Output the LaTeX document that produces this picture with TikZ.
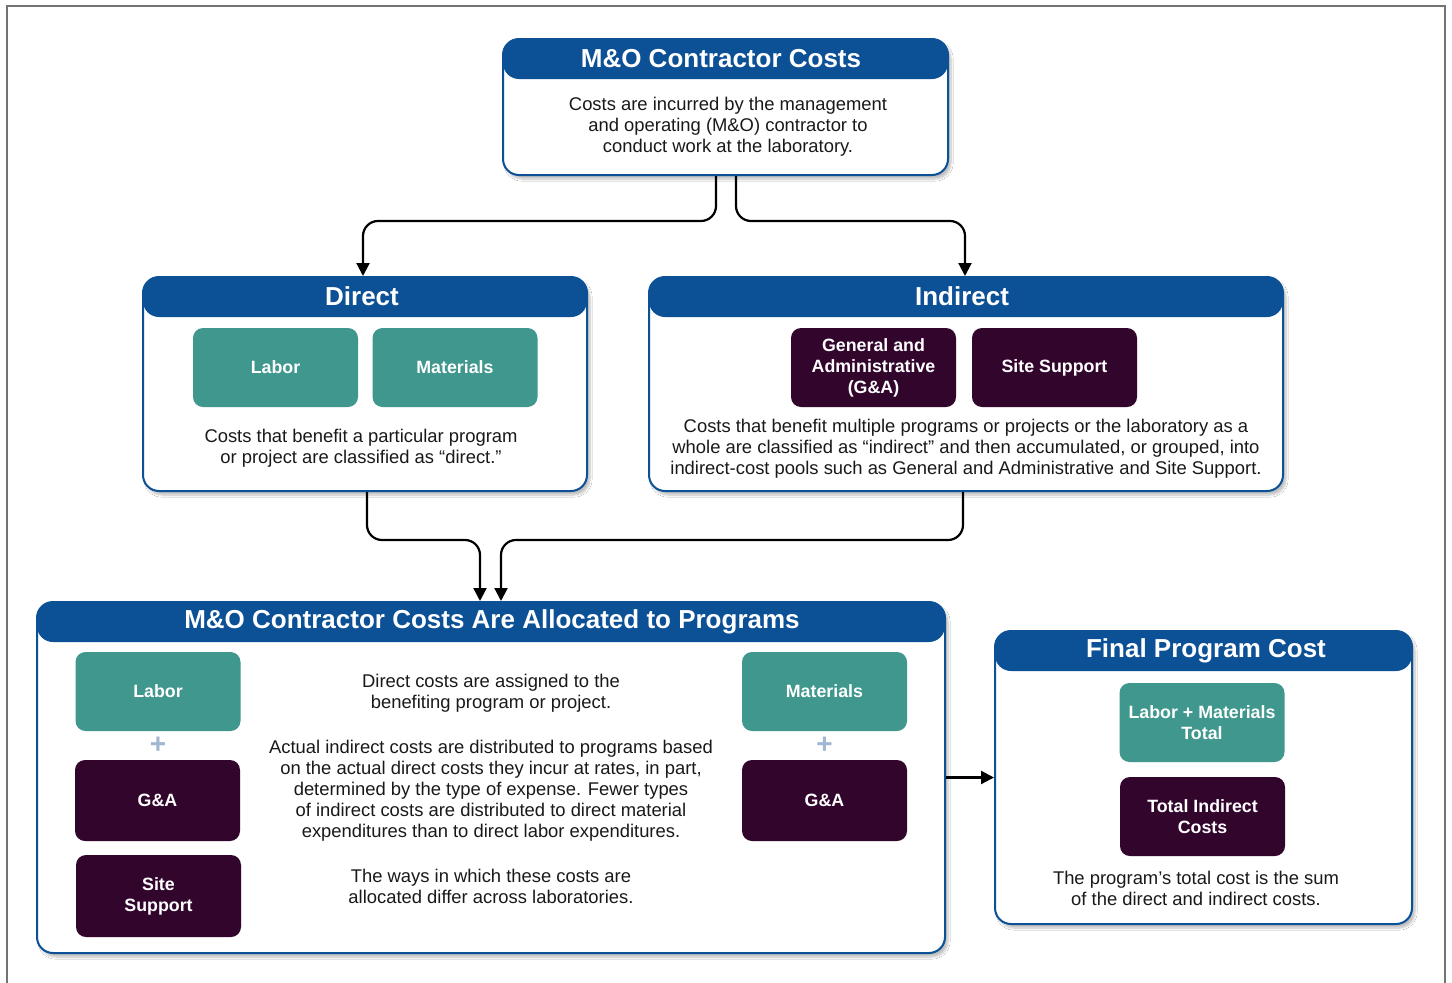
\documentclass[tikz,border=0pt]{standalone}
\usepackage{fontspec}
\setmainfont{Liberation Sans}
\usetikzlibrary{arrows.meta,shadows.blur}
\definecolor{hdr}{RGB}{12,80,150}
\definecolor{tealc}{RGB}{64,151,142}
\definecolor{purpc}{RGB}{50,5,45}
\definecolor{plusc}{RGB}{160,182,210}
\definecolor{txt}{RGB}{25,25,25}
\tikzset{
  bigbox/.style={draw=hdr, line width=2pt, fill=white, rounded corners=16pt, inner sep=0pt,
    blur shadow={shadow blur steps=8, shadow xshift=3pt, shadow yshift=-4pt, shadow opacity=25},
    path picture={\fill[hdr] (path picture bounding box.north west) rectangle ([yshift=-40pt]path picture bounding box.north east);}},
  boxtitle/.style={text=white, font=\bfseries\fontsize{26}{30}\selectfont, inner sep=0pt},
  bodytext/.style={align=center, text=txt, font=\fontsize{18.4}{21}\selectfont, inner sep=0pt},
  innerbox/.style={rounded corners=10pt, minimum width=165pt, minimum height=79pt, text=white,
    align=center, inner sep=2pt, font=\bfseries\fontsize{17.8}{21}\selectfont},
  tealbox/.style={innerbox, fill=tealc},
  purpbox/.style={innerbox, fill=purpc},
  plussign/.style={text=plusc, font=\bfseries\fontsize{28}{28}\selectfont, inner sep=0pt},
  conn/.style={draw=black, line width=2.2pt, rounded corners=15pt, -{Triangle[length=13pt,width=13pt]}},
}
\begin{document}
\begin{tikzpicture}[x=1pt,y=-1pt]
\useasboundingbox (0,0) rectangle (1452,983);
\fill[white] (0,0) rectangle (1452,983);
\draw[black!55, line width=1.6pt] (7,983) -- (7,6) -- (1445,6) -- (1445,983);

% big boxes
\node[bigbox, minimum width=445pt, minimum height=136pt] (top) at (725.5,107) {};
\node[bigbox, minimum width=444pt, minimum height=214pt] (direct) at (365,384) {};
\node[bigbox, minimum width=634pt, minimum height=214pt] (indirect) at (966,384) {};
\node[bigbox, minimum width=908pt, minimum height=351pt] (alloc) at (491,777.5) {};
\node[bigbox, minimum width=417pt, minimum height=293pt] (final) at (1203.5,777.5) {};

% titles
\node[boxtitle] (ttop) at (721,59) {M\&O Contractor Costs};
\node[boxtitle] (tdirect) at (362,296) {Direct};
\node[boxtitle] (tindirect) at (962,296) {Indirect};
\node[boxtitle] (talloc) at (492,622) {M\&O Contractor Costs Are Allocated to Programs};
\node[boxtitle] (tfinal) at (1206,651) {Final Program Cost};

% top box text
\node[bodytext] (toptext) at (728,127) {Costs are incurred by the management\\and operating (M\&O) contractor to\\conduct work at the laboratory.};

% direct box
\node[tealbox] (dlabor) at (275.5,367.5) {Labor};
\node[tealbox] (dmat) at (455,367.5) {Materials};
\node[bodytext] (dtext) at (361,448.5) {Costs that benefit a particular program\\or project are classified as “direct.”};

% indirect box
\node[purpbox] (iga) at (873.5,367.5) {General and\\Administrative\\(G\&A)};
\node[purpbox] (isite) at (1054.5,367.5) {Site Support};
\node[bodytext] (itext) at (966,449) {Costs that benefit multiple programs or projects or the laboratory as a\\whole are classified as “indirect” and then accumulated, or grouped, into\\indirect-cost pools such as General and Administrative and Site Support.};

% allocation box
\node[tealbox] (alabor) at (158,691.5) {Labor};
\node[plussign] (aplus1) at (158,745) {+};
\node[purpbox, minimum height=81pt] (aga1) at (157.5,800.5) {G\&A};
\node[purpbox, minimum height=82pt] (asite) at (158.5,896) {Site\\Support};
\node[tealbox] (amat) at (824.5,691.5) {Materials};
\node[plussign] (aplus2) at (824.5,745) {+};
\node[purpbox, minimum height=81pt] (aga2) at (824.5,800.5) {G\&A};
\node[bodytext] (atext1) at (491,693.5) {Direct costs are assigned to the\\benefiting program or project.};
\node[bodytext] (atext2) at (491,791) {Actual indirect costs are distributed to programs based\\on the actual direct costs they incur at rates, in part,\\determined by the type of expense. Fewer types\\of indirect costs are distributed to direct material\\expenditures than to direct labor expenditures.};
\node[bodytext] (atext3) at (491,886.5) {The ways in which these costs are\\allocated differ across laboratories.};

% final box
\node[tealbox] (flm) at (1202,722.5) {Labor + Materials\\Total};
\node[purpbox] (fti) at (1202.5,816.5) {Total Indirect\\Costs};
\node[bodytext] (ftext) at (1196,888.5) {The program’s total cost is the sum\\of the direct and indirect costs.};

% connectors
\draw[conn] ([xshift=-9.5pt]top.south) -- ++(0,45) -| ([xshift=-2pt]direct.north);
\draw[conn] ([xshift=10.5pt]top.south) -- ++(0,45) -| ([xshift=-1pt]indirect.north);
\draw[conn] ([xshift=2pt]direct.south) -- ++(0,48) -| ([xshift=-11pt]alloc.north);
\draw[conn] ([xshift=-3pt]indirect.south) -- ++(0,48) -| ([xshift=10pt]alloc.north);
\draw[conn, rounded corners=0pt] (alloc.east) -- (final.west);
\end{tikzpicture}
\end{document}
